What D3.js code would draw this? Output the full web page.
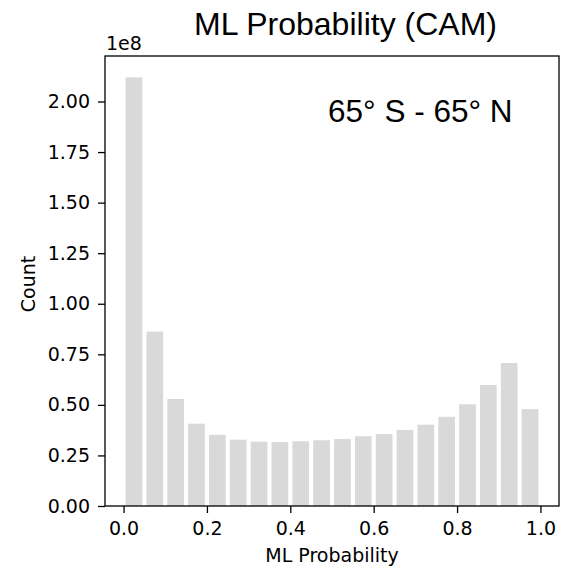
<!DOCTYPE html>
<html>
<head>
<meta charset="utf-8">
<script src="https://cdn.jsdelivr.net/npm/d3@7"></script>
<style>
  html, body { margin: 0; padding: 0; background: #fff; }
  svg { display: block; }
</style>
</head>
<body>
<svg id="chart" width="561" height="572"></svg>
<script>
// ---- data (counts in units of 1e8) ----
const binLefts = [0.00, 0.05, 0.10, 0.15, 0.20, 0.25, 0.30, 0.35, 0.40, 0.45,
                  0.50, 0.55, 0.60, 0.65, 0.70, 0.75, 0.80, 0.85, 0.90, 0.95];
const binWidth = 0.05;
const counts = [2.119, 0.862, 0.529, 0.407, 0.352, 0.328, 0.318, 0.316, 0.320, 0.325,
                0.331, 0.345, 0.356, 0.376, 0.402, 0.441, 0.503, 0.598, 0.707, 0.479];
const xTicks = [0.0, 0.2, 0.4, 0.6, 0.8, 1.0];
const yTicks = [0.00, 0.25, 0.50, 0.75, 1.00, 1.25, 1.50, 1.75, 2.00];
const titleText = "ML Probability (CAM)";
const regionText = "65° S - 65° N";
const xLabel = "ML Probability";
const yLabel = "Count";
const offsetText = "1e8";
const rwidth = 0.8;

// ---- layout ----
const L = 105, R = 559, T = 56, B = 506;
const svg = d3.select("#chart");
const dejavu = "'DejaVu Sans', sans-serif";
const arial = "'Liberation Sans', Arial, sans-serif";
const fs = 19;

const barW = binWidth * rwidth;
const dataMin = binLefts[0] + (binWidth - barW) / 2;
const dataMax = binLefts[binLefts.length - 1] + (binWidth + barW) / 2;
const pad = 0.05 * (dataMax - dataMin);
const x = d3.scaleLinear().domain([dataMin - pad, dataMax + pad]).range([L, R]);
const y = d3.scaleLinear().domain([0, 1.05 * d3.max(counts)]).range([B, T]);

// bars
svg.append("g").selectAll("rect")
  .data(counts)
  .join("rect")
  .attr("x", (d, i) => x(binLefts[i] + (binWidth - barW) / 2))
  .attr("width", (d, i) => x(binLefts[i] + (binWidth + barW) / 2) - x(binLefts[i] + (binWidth - barW) / 2))
  .attr("y", d => y(d))
  .attr("height", d => y(0) - y(d))
  .attr("fill", "#d9d9d9");

// axes
const xAxis = svg.append("g").attr("transform", `translate(0,${B})`)
  .call(d3.axisBottom(x).tickValues(xTicks).tickFormat(d3.format(".1f")).tickSize(7).tickPadding(9));
const yAxis = svg.append("g").attr("transform", `translate(${L},0)`)
  .call(d3.axisLeft(y).tickValues(yTicks).tickFormat(d3.format(".2f")).tickSize(7).tickPadding(8));
[xAxis, yAxis].forEach(g => {
  g.select(".domain").remove();
  g.selectAll("line").attr("stroke", "#000").attr("stroke-width", 1.3);
  g.selectAll("text").attr("font-family", dejavu).attr("font-size", fs).attr("fill", "#000");
});

// frame
svg.append("rect")
  .attr("x", L).attr("y", T).attr("width", R - L).attr("height", B - T)
  .attr("fill", "none").attr("stroke", "#000").attr("stroke-width", 1.3);

// offset text
svg.append("text").attr("x", L + 1).attr("y", 50)
  .attr("font-family", dejavu).attr("font-size", fs).text(offsetText);

// labels
svg.append("text").attr("x", (L + R) / 2).attr("y", 562)
  .attr("text-anchor", "middle").attr("font-family", dejavu).attr("font-size", fs).text(xLabel);
svg.append("text").attr("transform", `translate(35,${(T + B) / 2 + 3}) rotate(-90)`)
  .attr("text-anchor", "middle").attr("font-family", dejavu).attr("font-size", fs).text(yLabel);

// title
svg.append("text").attr("x", 345.5).attr("y", 35)
  .attr("text-anchor", "middle").attr("font-family", arial).attr("font-size", 32).text(titleText);

// region annotation
svg.append("text").attr("x", 328).attr("y", 121.5)
  .attr("font-family", arial).attr("font-size", 31.5).text(regionText);
</script>
</body>
</html>
